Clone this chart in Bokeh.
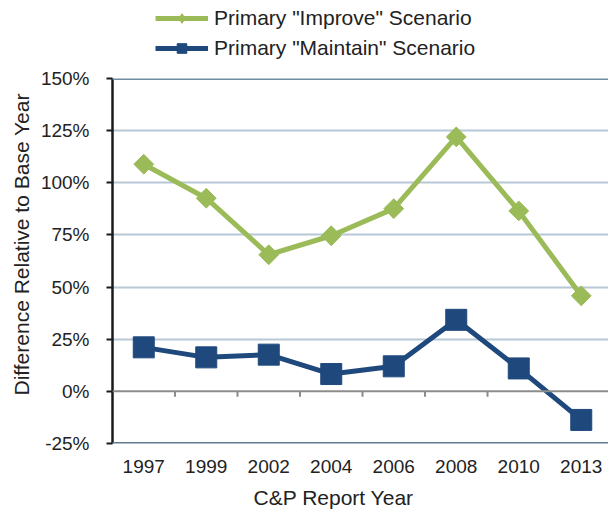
import numpy as np
from bokeh.plotting import figure
from bokeh.layouts import column, row
from bokeh.models import (Range1d, FixedTicker, PrintfTickFormatter, Span, Legend,
                          LegendItem, Title, Spacer)
from bokeh.embed import file_html
from bokeh.resources import INLINE

years = ["1997", "1999", "2002", "2004", "2006", "2008", "2010", "2013"]
improve = [108.9, 92.6, 65.5, 74.6, 87.6, 122.0, 86.5, 45.8]
maintain = [21.1, 16.3, 17.6, 8.3, 12.0, 34.3, 11.0, -13.7]
y_ticks = [-25, 0, 25, 50, 75, 100, 125, 150]
series_names = ['Primary "Improve" Scenario', 'Primary "Maintain" Scenario']

FONT = "Liberation Sans"
GREEN = "#9BBB59"
BLUE = "#1F497D"
TEXT = "#222222"

x = np.arange(len(years))

p = figure(width=608, height=458, output_backend="svg", toolbar_location=None,
           x_range=Range1d(-0.5, len(years) - 0.5 - 0.064),
           y_range=Range1d(y_ticks[0], y_ticks[-1]),
           min_border_left=112, min_border_right=0, min_border_top=18,
           min_border_bottom=75)
p.outline_line_color = None
p.background_fill_color = "white"
p.border_fill_color = "white"

# grid
p.xgrid.visible = False
p.ygrid.ticker = FixedTicker(ticks=y_ticks[2:-1])
p.ygrid.grid_line_color = "#B8C8D6"
p.ygrid.grid_line_width = 2

p.add_layout(Span(location=y_ticks[-1], dimension="width", line_color="#6F8BA0", line_width=3))
p.add_layout(Span(location=y_ticks[0], dimension="width", line_color="#627D92", line_width=3))
p.add_layout(Span(location=0, dimension="width", line_color="#8C8C8C", line_width=2))

# small ticks on zero line between categories
tick_len = 2.6
bx = x[:-1] + 0.5
p.segment(x0=bx, y0=np.zeros(len(bx)), x1=bx, y1=np.full(len(bx), -tick_len),
          line_color="#8C8C8C", line_width=2)

# y axis
ya = p.yaxis[0]
ya.ticker = FixedTicker(ticks=y_ticks)
ya.formatter = PrintfTickFormatter(format="%d%%")
ya.axis_line_color = "#1A1A1A"
ya.axis_line_width = 2.5
ya.major_tick_line_color = "#1A1A1A"
ya.major_tick_line_width = 2
ya.major_tick_out = 6
ya.major_tick_in = 0
ya.minor_tick_line_color = None
ya.major_label_standoff = 17
ya.major_label_text_font = FONT
ya.major_label_text_font_size = "19px"
ya.major_label_text_color = TEXT

# x axis
xa = p.xaxis[0]
xa.ticker = FixedTicker(ticks=list(x))
xa.major_label_overrides = {int(i): y for i, y in zip(x, years)}
xa.axis_line_color = None
xa.major_tick_line_color = None
xa.minor_tick_line_color = None
xa.major_tick_out = 0
xa.major_tick_in = 0
xa.major_label_standoff = 16
xa.major_label_text_font = FONT
xa.major_label_text_font_size = "19px"
xa.major_label_text_color = TEXT

# axis titles
p.add_layout(Title(text="C&P Report Year", align="left", offset=141,
                   text_font=FONT, text_font_size="21px", text_font_style="normal",
                   text_color=TEXT, standoff=17), "below")
p.add_layout(Title(text="Difference Relative to Base Year", align="left", offset=48,
                   text_font=FONT, text_font_size="21px", text_font_style="normal",
                   text_color=TEXT, standoff=10), "left")

# series
p.line(x, improve, line_color=GREEN, line_width=5)
p.scatter(x, improve, marker="square", angle=np.pi / 4, size=14,
          fill_color=GREEN, line_color=GREEN)
p.line(x, maintain, line_color=BLUE, line_width=5)
p.scatter(x, maintain, marker="square", size=21, fill_color=BLUE, line_color=BLUE)

# legend strip above the chart (separate figure so it is not clipped by the frame)
leg = figure(width=453, height=60, output_backend="svg", toolbar_location=None,
             x_range=Range1d(0, 1), y_range=Range1d(0, 1),
             x_axis_type=None, y_axis_type=None,
             min_border_left=0, min_border_right=0, min_border_top=0, min_border_bottom=0)
leg.outline_line_color = None
leg.grid.visible = False
off = [-10.0]   # proxy renderers, outside the visible range (legend swatches only)
gl1 = leg.line(off, off, line_color=GREEN, line_width=5)
gm1 = leg.scatter(off, off, marker="diamond", size=14,
                  fill_color=GREEN, line_color=GREEN)
gl2 = leg.line(off, off, line_color=BLUE, line_width=5)
gm2 = leg.scatter(off, off, marker="square", size=21, fill_color=BLUE, line_color=BLUE)

legend = Legend(items=[
    LegendItem(label=series_names[0], renderers=[gl1, gm1]),
    LegendItem(label=series_names[1], renderers=[gl2, gm2]),
], location="bottom_left", orientation="vertical")
legend.border_line_color = None
legend.background_fill_alpha = 0
legend.padding = 0
legend.margin = 0
legend.spacing = 6
legend.glyph_width = 53
legend.glyph_height = 24
legend.label_height = 24
legend.label_standoff = 6
legend.label_text_font = FONT
legend.label_text_font_size = "21px"
legend.label_text_color = TEXT
leg.add_layout(legend, "center")

layout = column(row(Spacer(width=155, height=60), leg, spacing=0), p, spacing=0)
open("out.html", "w").write(file_html(layout, INLINE))
